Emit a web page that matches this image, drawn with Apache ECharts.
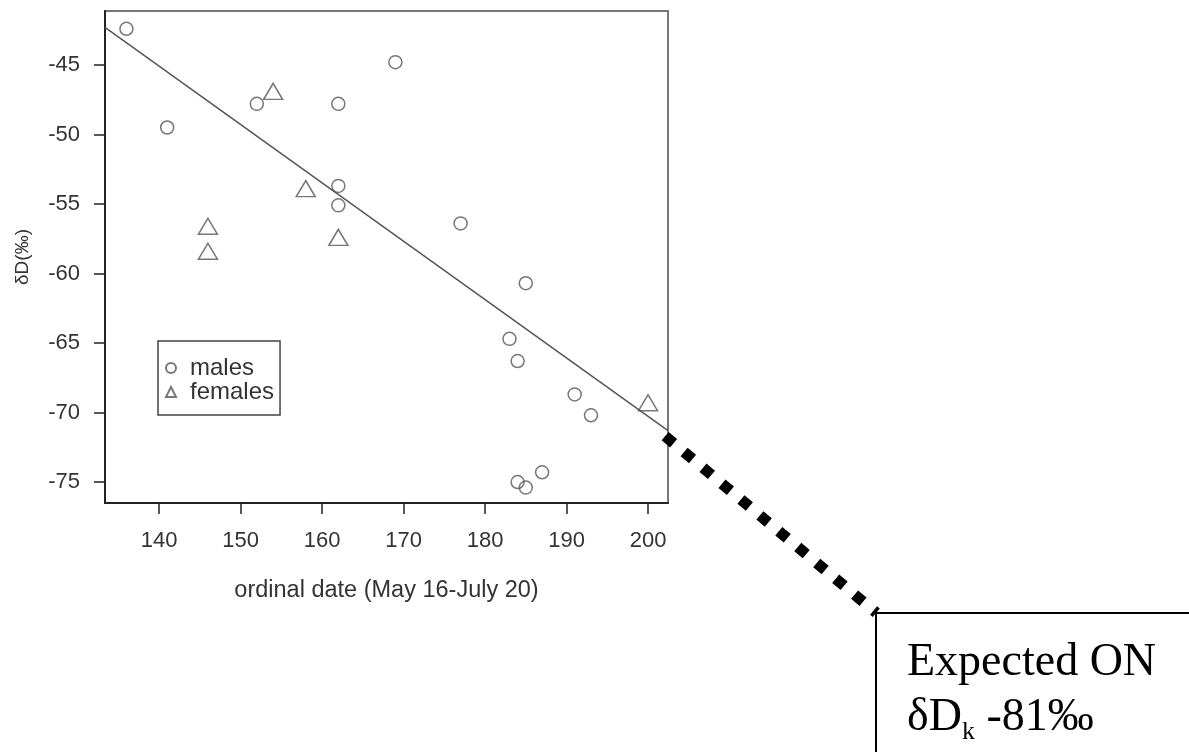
<!DOCTYPE html>
<html>
<head>
<meta charset="utf-8">
<title>dD vs ordinal date</title>
<script src="https://cdn.jsdelivr.net/npm/echarts@6/dist/echarts.min.js"></script>
<style>
  html, body { margin: 0; padding: 0; background: #fff; }
  #main { width: 1189px; height: 752px; }
</style>
</head>
<body>
<div id="main"></div>
<script>
// data
var maleX = [136, 141, 152, 162, 162, 162, 169, 177, 185, 183, 184, 191, 193, 187, 184, 185];
var maleY = [-42.4, -49.5, -47.8, -47.8, -53.7, -55.1, -44.8, -56.4, -60.7, -64.7, -66.3, -68.7, -70.2, -74.3, -75.0, -75.4];
var femaleX = [154, 158, 146, 146, 162, 200];
var femaleY = [-46.9, -53.9, -56.6, -58.4, -57.4, -69.3];

// fitted line end points and the dotted extension towards the note box
var fitX = [133.37, 202.45];
var fitY = [-42.3, -71.3];
var extX = [202.1, 228.0];
var extY = [-71.7, -84.4];

var xTicks = [140, 150, 160, 170, 180, 190, 200];
var yTicks = [-75, -70, -65, -60, -55, -50, -45];

function pairs(xs, ys) {
    var out = [];
    for (var i = 0; i < xs.length; i++) out.push([xs[i], ys[i]]);
    return out;
}

var sans = 'Liberation Sans, Arial, sans-serif';
var serif = 'Liberation Serif, Times New Roman, serif';

// main plot box
var xMin = 133.37, xMax = 202.45, yMin = -76.51, yMax = -41.12;
var gLeft = 105, gTop = 11, gWidth = 563, gHeight = 492;
// a hidden, larger grid on the same scale so the extension can run past the box
var x2Max = 250, y2Min = -90;
var pxX = gWidth / (xMax - xMin), pxY = gHeight / (yMax - yMin);

var myChart = echarts.init(document.getElementById('main'));

var option = {
    animation: false,
    backgroundColor: '#fff',
    grid: [
        {
            left: gLeft, top: gTop, width: gWidth, height: gHeight,
            show: true, borderColor: '#777', borderWidth: 2
        },
        {
            left: gLeft, top: gTop,
            width: pxX * (x2Max - xMin), height: pxY * (yMax - y2Min),
            show: false
        }
    ],
    legend: {
        orient: 'vertical',
        left: 158, top: 341,
        padding: [15, 6, 11, 7],
        itemGap: 0,
        itemWidth: 10, itemHeight: 10,
        borderColor: '#444', borderWidth: 1.5, borderRadius: 0,
        textStyle: { fontFamily: sans, fontSize: 24, color: '#333', lineHeight: 23, padding: [0, 0, 0, 9] },
        data: ['males', 'females']
    },
    xAxis: [
        {
            type: 'value', gridIndex: 0,
            min: xMin, max: xMax,
            name: 'ordinal date (May 16-July 20)',
            nameLocation: 'middle',
            nameGap: 76,
            nameTextStyle: { fontFamily: sans, fontSize: 23.5, color: '#333' },
            axisLine: { show: true, onZero: false, lineStyle: { color: '#222', width: 2 } },
            axisTick: { show: true, customValues: xTicks, length: 11, lineStyle: { color: '#222', width: 1.5 } },
            axisLabel: { customValues: xTicks, fontFamily: sans, fontSize: 22, color: '#333', margin: 27 },
            splitLine: { show: false }
        },
        {
            type: 'value', gridIndex: 1, min: xMin, max: x2Max, show: false
        }
    ],
    yAxis: [
        {
            type: 'value', gridIndex: 0,
            min: yMin, max: yMax,
            name: 'δD(‰)',
            nameLocation: 'middle',
            nameRotate: 90,
            nameGap: 73,
            nameTextStyle: { fontFamily: sans, fontSize: 19, color: '#333' },
            axisLine: { show: true, onZero: false, lineStyle: { color: '#222', width: 2 } },
            axisTick: { show: true, customValues: yTicks, length: 11, lineStyle: { color: '#222', width: 1.5 } },
            axisLabel: { customValues: yTicks, fontFamily: sans, fontSize: 22, color: '#333', margin: 25 },
            splitLine: { show: false }
        },
        {
            type: 'value', gridIndex: 1, min: y2Min, max: yMax, show: false
        }
    ],
    series: [
        {
            name: 'fit',
            type: 'line',
            data: pairs(fitX, fitY),
            symbol: 'none',
            lineStyle: { color: '#555', width: 1.5 },
            z: 1
        },
        {
            name: 'expected',
            type: 'line',
            xAxisIndex: 1, yAxisIndex: 1,
            data: pairs(extX, extY),
            symbol: 'none',
            clip: false,
            lineStyle: { color: '#000', width: 11, type: [11, 13.7], cap: 'butt' },
            z: 1
        },
        {
            name: 'males',
            type: 'scatter',
            data: pairs(maleX, maleY),
            symbol: 'circle',
            symbolSize: 13,
            itemStyle: { color: 'rgba(255,255,255,0)', borderColor: '#555', borderWidth: 1.5 },
            z: 3
        },
        {
            name: 'females',
            type: 'scatter',
            data: pairs(femaleX, femaleY),
            symbol: 'triangle',
            symbolSize: [19, 16],
            itemStyle: { color: 'rgba(255,255,255,0)', borderColor: '#555', borderWidth: 1.5 },
            z: 3
        }
    ],
    graphic: [
        {
            type: 'rect',
            shape: { x: 876, y: 613, width: 420, height: 200 },
            style: { fill: '#fff', stroke: '#000', lineWidth: 2 },
            z: 10
        },
        {
            type: 'text',
            x: 907, y: 635,
            style: {
                text: '{n|Expected ON}\n{n|δD}{k|k}{n| -81‰}',
                rich: {
                    n: { fontFamily: serif, fontSize: 46, lineHeight: 55, fill: '#000' },
                    k: { fontFamily: serif, fontSize: 26, lineHeight: 35, fill: '#000', verticalAlign: 'bottom' }
                }
            },
            z: 11
        }
    ]
};

myChart.setOption(option);
</script>
</body>
</html>
